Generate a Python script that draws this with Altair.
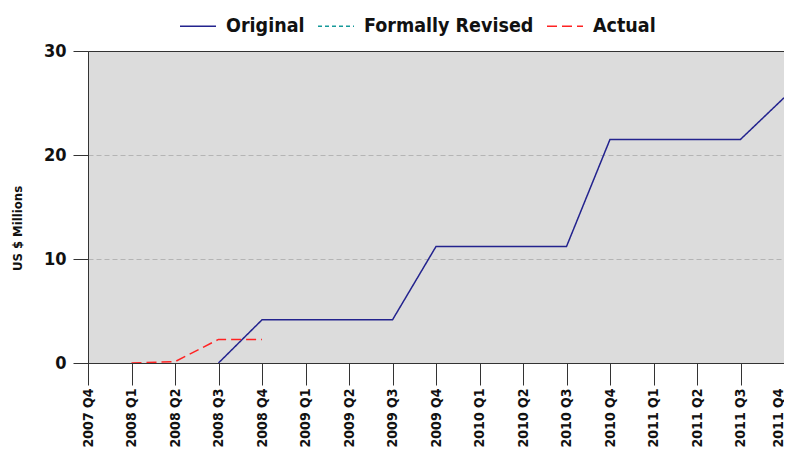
import altair as alt
import pandas as pd

quarters = ["2007 Q4", "2008 Q1", "2008 Q2", "2008 Q3", "2008 Q4",
            "2009 Q1", "2009 Q2", "2009 Q3", "2009 Q4",
            "2010 Q1", "2010 Q2", "2010 Q3", "2010 Q4",
            "2011 Q1", "2011 Q2", "2011 Q3", "2011 Q4"]

series = ["Original", "Formally Revised", "Actual"]
colors = ["#23238e", "#169a9a", "#ff2222"]
dashes = [[1, 0], [4, 3], [10, 5]]

original_q = quarters[3:]
original_v = [0, 4.15, 4.15, 4.15, 4.15, 11.2, 11.2, 11.2, 11.2,
              21.5, 21.5, 21.5, 21.5, 25.5]

actual_q = quarters[1:5]
actual_v = [0, 0.13, 2.27, 2.27]

rows = []
for q, v in zip(original_q, original_v):
    rows.append({"quarter": q, "value": v, "series": "Original"})
for q, v in zip(actual_q, actual_v):
    rows.append({"quarter": q, "value": v, "series": "Actual"})
df = pd.DataFrame(rows)

FONT = "DejaVu Sans Condensed, DejaVu Sans"

leg = dict(title=None, orient="none", legendX=91, legendY=-44,
           direction="horizontal", symbolType="stroke", symbolSize=1296,
           symbolStrokeWidth=1.5, labelFont=FONT, labelFontSize=19.5,
           labelFontWeight="bold", labelColor="#111111", labelLimit=400,
           labelOffset=9, columnPadding=10)

chart = alt.Chart(df).mark_line(strokeWidth=1.5, clip=True).encode(
    x=alt.X("quarter:N", sort=quarters,
            scale=alt.Scale(domain=quarters, type="point", padding=0),
            axis=alt.Axis(title=None, labelAngle=270, tickSize=22,
                          labelPadding=3, grid=False, labelFontSize=14,
                          labelOffset=alt.condition(
                              "datum.value == '2011 Q4'",
                              alt.value(-6), alt.value(0)))),
    y=alt.Y("value:Q", scale=alt.Scale(domain=[0, 30], nice=False),
            axis=alt.Axis(values=[0, 10, 20, 30], title="US $ Millions",
                          tickSize=15, labelPadding=7, labelFontSize=18,
                          grid=True, gridDash=[5, 3], gridColor="#b4b4b4",
                          gridOpacity=alt.condition(
                              "datum.value == 30 || datum.value == 0",
                              alt.value(0), alt.value(1)),
                          titleX=-71, titleY=177, titleAngle=270,
                          titleAlign="center", titleBaseline="middle",
                          titleFontSize=13)),
    color=alt.Color("series:N", scale=alt.Scale(domain=series, range=colors),
                    legend=alt.Legend(**leg)),
    strokeDash=alt.StrokeDash("series:N",
                              scale=alt.Scale(domain=series, range=dashes),
                              legend=alt.Legend(**leg)),
).properties(
    width=696, height=312,
    autosize=alt.AutoSizeParams(type="none"),
    padding={"left": 80, "top": 43, "right": 0, "bottom": 86},
).configure_view(
    fill="#dcdcdc", stroke="#333333", strokeWidth=1
).configure_axis(
    domainColor="#333333", tickColor="#333333", labelFont=FONT,
    labelFontWeight="bold", labelColor="#111111", titleFont=FONT,
    titleFontWeight="bold", titleColor="#111111"
)

chart.save("out.html", embed_options={"renderer": "svg", "actions": False})
